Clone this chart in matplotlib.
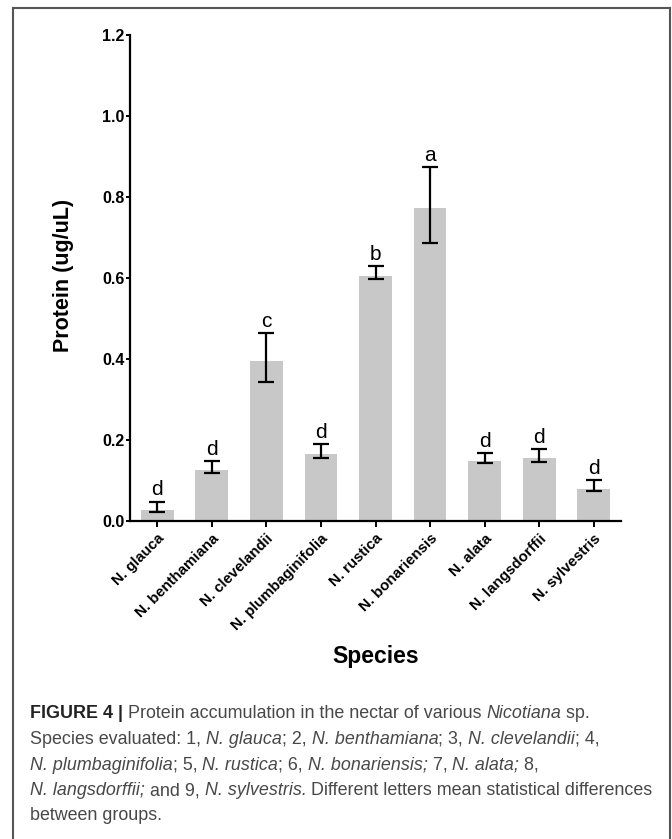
import numpy as np
import matplotlib
matplotlib.use("Agg")
import matplotlib.pyplot as plt
from matplotlib.lines import Line2D

# Donnees
species = ["N. glauca", "N. benthamiana", "N. clevelandii", "N. plumbaginifolia",
           "N. rustica", "N. bonariensis", "N. alata", "N. langsdorffii", "N. sylvestris"]
protein = [0.027, 0.125, 0.396, 0.165, 0.606, 0.773, 0.149, 0.155, 0.079]
err_low = [0.005, 0.007, 0.052, 0.009, 0.008, 0.087, 0.005, 0.009, 0.006]
err_high = [0.021, 0.023, 0.068, 0.024, 0.023, 0.102, 0.019, 0.023, 0.023]
letters = ["d", "d", "c", "d", "b", "a", "d", "d", "d"]

W, H = 672, 839
fig = plt.figure(figsize=(W / 100, H / 100), dpi=100)
plt.rcParams['font.family'] = ['Liberation Sans', 'DejaVu Sans']

ax = fig.add_axes([130 / W, 1 - 521 / H, (621 - 130) / W, (521 - 35) / H])
x = np.arange(len(species))
ax.bar(x, protein, width=0.6, color='#c8c8c8', edgecolor='none', zorder=1)
ax.errorbar(x, protein, yerr=[err_low, err_high], fmt='none', ecolor='black',
            elinewidth=1.6, capsize=6, capthick=1.6, zorder=2)
for i, lt in enumerate(letters):
    ax.annotate(lt, (x[i], protein[i] + err_high[i]), xytext=(0, 1.5),
                textcoords='offset points', ha='center', va='bottom', fontsize=15)

ax.set_xlim(-0.5, 8.5)
ax.set_ylim(0, 1.2)
ax.set_yticks(np.arange(0, 1.21, 0.2))
ax.set_yticklabels([f"{v:.1f}" for v in np.arange(0, 1.21, 0.2)], fontweight='bold', fontsize=11.5)
ax.set_xticks(x)
ax.set_xticklabels(species, rotation=45, ha='right', rotation_mode='anchor',
                   fontweight='bold', fontsize=10.8)
for s in ['top', 'right']:
    ax.spines[s].set_visible(False)
for s in ['left', 'bottom']:
    ax.spines[s].set_linewidth(1.6)
ax.tick_params(axis='y', length=3, width=1.4, pad=1)
ax.tick_params(axis='x', length=4.5, width=1.4, pad=3)

fig.text(64 / W, 1 - 275 / H, "Protein (ug/uL)", rotation=90, ha='center', va='center',
         fontsize=15.5, fontweight='bold')
fig.text(376 / W, 1 - 656 / H, "Species", ha='center', va='center',
         fontsize=16.5, fontweight='bold')

# cadre
frame_col = '#555555'
fig.add_artist(Line2D([13 / W, 13 / W], [0, 1 - 8 / H], color=frame_col, lw=1.5))
fig.add_artist(Line2D([13 / W, 670 / W], [1 - 8 / H, 1 - 8 / H], color=frame_col, lw=1.5))
fig.add_artist(Line2D([670 / W, 670 / W], [0, 1 - 8 / H], color=frame_col, lw=1.5))

# legende
cap_lines = [
    [("FIGURE 4 |", 'bold', 'normal', '#222222'), (" Protein accumulation in the nectar of various ", 'normal', 'normal', None),
     ("Nicotiana", 'normal', 'italic', None), (" sp.", 'normal', 'normal', None)],
    [("Species evaluated: 1, ", 'normal', 'normal', None), ("N. glauca", 'normal', 'italic', None),
     ("; 2, ", 'normal', 'normal', None), ("N. benthamiana", 'normal', 'italic', None),
     ("; 3, ", 'normal', 'normal', None), ("N. clevelandii", 'normal', 'italic', None),
     ("; 4,", 'normal', 'normal', None)],
    [("N. plumbaginifolia", 'normal', 'italic', None), ("; 5, ", 'normal', 'normal', None),
     ("N. rustica", 'normal', 'italic', None), ("; 6, ", 'normal', 'normal', None),
     ("N. bonariensis;", 'normal', 'italic', None), (" 7, ", 'normal', 'normal', None),
     ("N. alata;", 'normal', 'italic', None), (" 8,", 'normal', 'normal', None)],
    [("N. langsdorffii;", 'normal', 'italic', None), (" and 9, ", 'normal', 'normal', None),
     ("N. sylvestris.", 'normal', 'italic', None),
     (" Different letters mean statistical differences", 'normal', 'normal', None)],
    [("between groups.", 'normal', 'normal', None)],
]
cap_fs = 12.9
cap_col = '#484848'
line_y = [714, 739.5, 765, 790.5, 816]
renderer = fig.canvas.get_renderer()


def largeur(txt, weight, style):
    # mesure avec des x autour pour garder les espaces
    t1 = fig.text(0, 0, "x" + txt + "x", fontsize=cap_fs, fontweight=weight, fontstyle=style)
    t2 = fig.text(0, 0, "xx", fontsize=cap_fs, fontweight=weight, fontstyle=style)
    w = t1.get_window_extent(renderer).width - t2.get_window_extent(renderer).width
    t1.remove()
    t2.remove()
    return w


for segs, yy in zip(cap_lines, line_y):
    xp = 30
    for txt, weight, style, col in segs:
        fig.text(xp / W, 1 - yy / H, txt, fontsize=cap_fs, fontweight=weight, fontstyle=style,
                 color=col or cap_col, va='center', ha='left')
        xp += largeur(txt, weight, style)

fig.savefig("out.png", dpi=100)
